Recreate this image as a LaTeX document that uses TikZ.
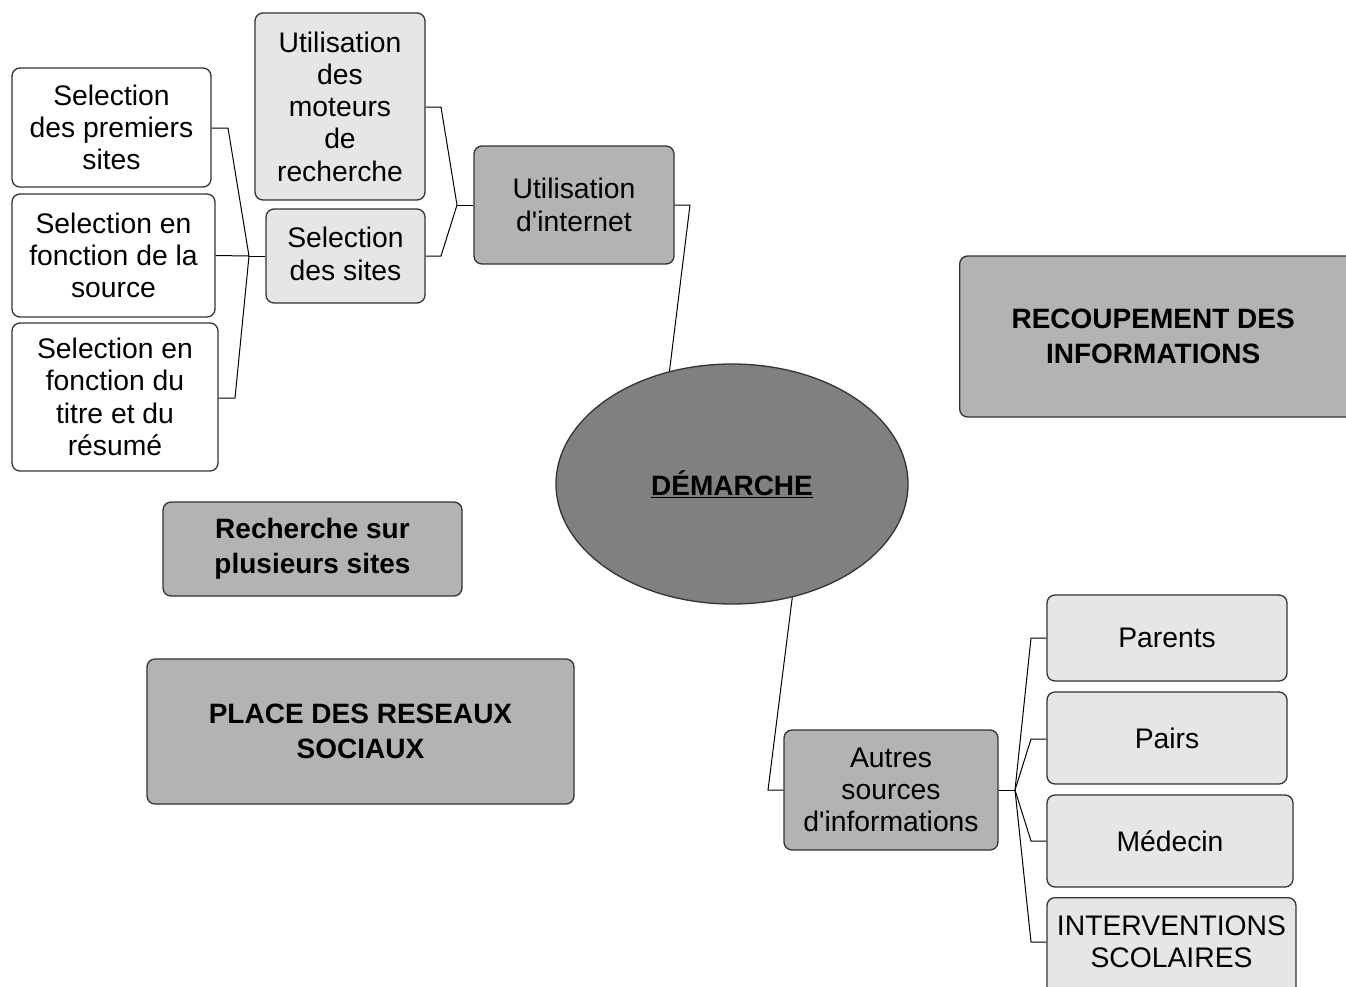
\documentclass[tikz,border=0pt]{standalone}
\usepackage{fontspec}
\setmainfont{Liberation Sans}
\usetikzlibrary{shapes.geometric}
\definecolor{lightfill}{HTML}{E6E6E6}
\definecolor{midfill}{HTML}{B3B3B3}
\definecolor{darkfill}{HTML}{808080}
\definecolor{edgecol}{HTML}{333333}
\newcommand{\sq}{\textquotesingle}
\tikzset{
  basebox/.style={draw=edgecol, line width=1.3pt, rounded corners=8pt, align=center, inner sep=0pt,
    font=\fontsize{28.3}{32.3}\selectfont},
  whitebox/.style={basebox, fill=white},
  lightbox/.style={basebox, fill=lightfill},
  midbox/.style={basebox, fill=midfill},
  boldbox/.style={basebox, fill=midfill, font=\fontsize{28}{35}\selectfont\bfseries},
  plaintext/.style={align=center, inner sep=0pt, font=\fontsize{28.3}{32.3}\selectfont},
  link/.style={draw=black, line width=1pt},
}
\begin{document}
\begin{tikzpicture}[x=1pt,y=-1pt]
\useasboundingbox (0,0) rectangle (1346,986);
% boxes
\node[lightbox, minimum width=170, minimum height=187] (moteurs) at (340,106.5) {Utilisation\\des\\moteurs\\de\\recherche};
\node[lightbox, minimum width=159, minimum height=94] (sites) at (345.5,256) {};
\node[plaintext] (sitestext) at (345.5,254) {Selection\\des sites};
\node[midbox, minimum width=200, minimum height=118] (internet) at (574,205) {Utilisation\\d\sq internet};
\node[whitebox, minimum width=199, minimum height=119] (premiers) at (111.5,127.5) {Selection\\des premiers\\sites};
\node[whitebox, minimum width=203, minimum height=123] (source) at (113.5,255.5) {Selection en\\fonction de la\\source};
\node[whitebox, minimum width=206, minimum height=148] (titre) at (115,397) {Selection en\\fonction du\\titre et du\\résumé};
\node[boldbox, minimum width=299, minimum height=94] (plusieurs) at (312.5,549) {Recherche sur\\plusieurs sites};
\node[boldbox, minimum width=427, minimum height=145] (reseaux) at (360.5,731.5) {PLACE DES RESEAUX\\SOCIAUX};
\node[boldbox, minimum width=400, minimum height=161, anchor=west] (recoup) at (959,336.5) {\hspace*{-13pt}RECOUPEMENT DES\\\hspace*{-13pt}INFORMATIONS};
\node[ellipse, draw=edgecol, line width=1.3pt, fill=darkfill, minimum width=352, minimum height=240, inner sep=0pt,
  font=\fontsize{28}{33}\selectfont\bfseries] (dem) at (732,484) {\underline{DÉMARCHE}};
\node[midbox, minimum width=214, minimum height=120] (autres) at (891,790) {Autres\\sources\\d\sq informations};
\node[lightbox, minimum width=240, minimum height=86] (parents) at (1167,638) {Parents};
\node[lightbox, minimum width=240, minimum height=92] (pairs) at (1167,738) {Pairs};
\node[lightbox, minimum width=246, minimum height=92] (medecin) at (1170,841) {Médecin};
\node[lightbox, minimum width=249, minimum height=100, anchor=north] (interv) at (1171.5,897) {};
\node[plaintext] (intervtext) at (1171.5,942) {INTERVENTIONS\\SCOLAIRES};
% connectors
\coordinate (jA) at (690,205);
\draw[link] (dem.119.4) -- (jA) -- (internet.east);
\coordinate (jB) at (457,205);
\draw[link] (internet.west) -- (jB);
\draw[link] (jB) -- (441,107) -- (moteurs.east |- 0,107);
\draw[link] (jB) -- (441,256) -- (sites.east);
\coordinate (jC) at (249,256);
\draw[link] (sites.west) -- (jC);
\draw[link] (jC) -- (228,128) -- (premiers.east |- 0,128);
\draw[link] (jC) -- (source.east);
\draw[link] (jC) -- (235,398) -- (titre.east |- 0,398);
\coordinate (jD) at (768,790);
\draw[link] (dem.-62.6) -- (jD) -- (autres.west);
\coordinate (jE) at (1015,790);
\draw[link] (autres.east) -- (jE);
\draw[link] (jE) -- (1031,638) -- (parents.west);
\draw[link] (jE) -- (1031,739) -- (pairs.west |- 0,739);
\draw[link] (jE) -- (1031,841) -- (medecin.west);
\draw[link] (jE) -- (1031,942) -- (interv.west |- 0,942);
\end{tikzpicture}
\end{document}
